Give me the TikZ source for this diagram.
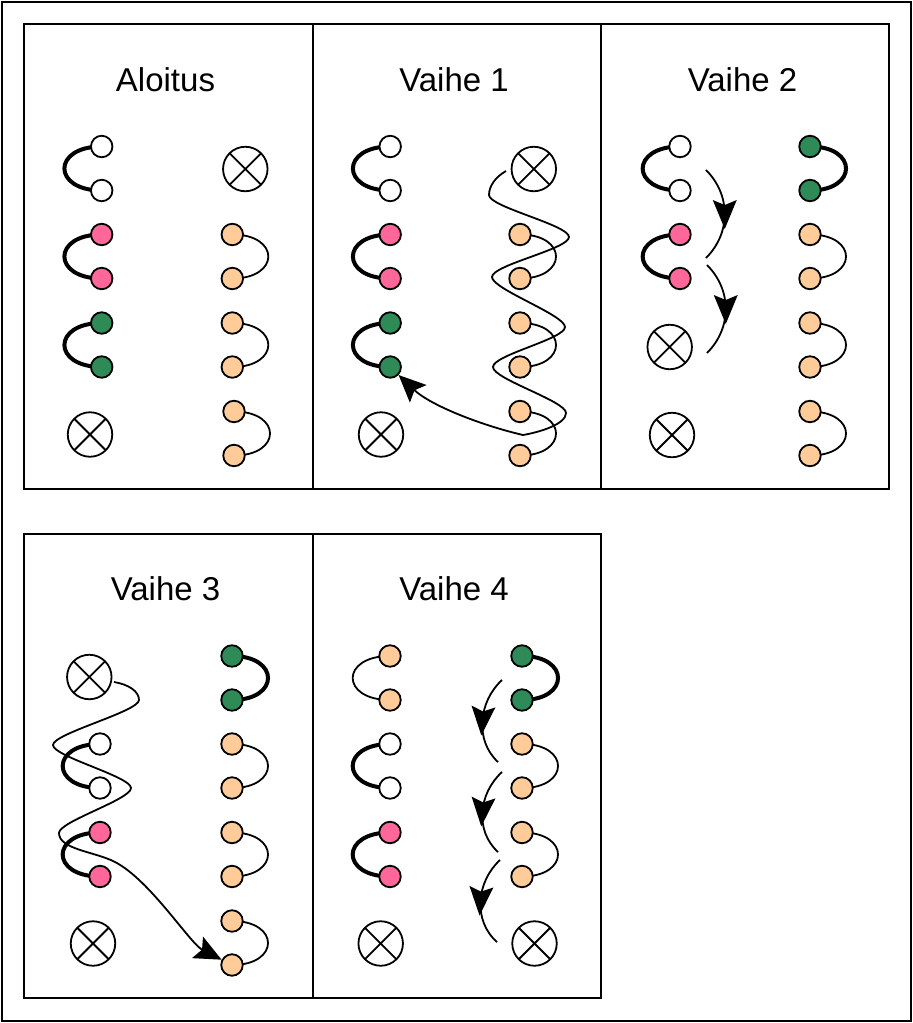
\documentclass[tikz,border=0pt]{standalone}
\usepackage{fontspec}
\setmainfont{Liberation Sans}
\usetikzlibrary{arrows.meta,decorations.markings}
\definecolor{pinkd}{HTML}{FF6699}
\definecolor{greend}{HTML}{2E8B57}
\definecolor{oranged}{HTML}{FFCC99}
\pgfdeclarelayer{bottom}
\pgfdeclarelayer{arcs}
\pgfsetlayers{bottom,arcs,main}
\tikzset{
 dotn/.style={circle,draw,line width=1.8pt,minimum size=21.5pt,inner sep=0pt},
 wdot/.style={dotn,fill=white},
 pdot/.style={dotn,fill=pinkd},
 gdot/.style={dotn,fill=greend},
 odot/.style={dotn,fill=oranged},
 xcirc/.style={circle,draw,line width=1.8pt,minimum size=44.5pt,inner sep=0pt,fill=white,
   path picture={\draw[line width=1.8pt] (path picture bounding box.north west) -- (path picture bounding box.south east) (path picture bounding box.north east) -- (path picture bounding box.south west);}},
 thickarc/.style={line width=4pt},
 thinarc/.style={line width=1.8pt},
 wave/.style={line width=1.8pt},
 panelline/.style={line width=2pt},
 title/.style={font=\fontsize{33}{40}\selectfont,anchor=base,inner sep=0pt},
 midarrow/.style={decoration={markings,mark=at position #1 with {\fill (15pt,0pt) -- (-14pt,12pt) -- (-9pt,0pt) -- (-14pt,-12pt) -- cycle;}},postaction={decorate}},
}
% left-side pair: prefix, x, y, dot style, arc style
\newcommand{\lpairX}[5]{%
  \node[#4] (#1a) at (#2,#3) {};
  \node[#4] (#1b) at (#2,#3+44) {};
  \begin{pgfonlayer}{arcs}
  \draw[#5] (#1a.center) to[out=180,in=180,looseness=2.9] (#1b.center);
  \end{pgfonlayer}
}
\newcommand{\rpairX}[5]{%
  \node[#4] (#1a) at (#2,#3) {};
  \node[#4] (#1b) at (#2,#3+44) {};
  \begin{pgfonlayer}{arcs}
  \draw[#5] (#1a.center) to[out=0,in=0,looseness=2.8] (#1b.center);
  \end{pgfonlayer}
}
\begin{document}
\begin{tikzpicture}[x=1pt,y=-1pt,>={Stealth[length=27pt,width=24pt,inset=5pt]}]
\useasboundingbox (0,0) rectangle (913,1023);
\begin{pgfonlayer}{bottom}
\fill[white] (0,0) rectangle (913,1023);
\end{pgfonlayer}
\draw[line width=2pt] (2,2) rectangle (911,1021);
\draw[panelline] (24,24) rectangle (312.5,489);
\draw[panelline] (312.5,24) rectangle (601,489);
\draw[panelline] (601,24) rectangle (888.5,489);
\draw[panelline] (24,533.5) rectangle (312.5,998);
\draw[panelline] (312.5,533.5) rectangle (601,998);

% ---------- Aloitus ----------
\begin{scope}[shift={(24,24)}]
\node[title] (a-t) at (141.5,67) {Aloitus};
\lpairX{a-w}{77.7}{122.5}{wdot}{thickarc}
\lpairX{a-p}{77.7}{210.5}{pdot}{thickarc}
\lpairX{a-g}{77.7}{299}{gdot}{thickarc}
\node[xcirc] (a-x1) at (66,410.5) {};
\node[xcirc] (a-x2) at (221.3,145) {};
\rpairX{a-o1}{208.3}{210.5}{odot}{thinarc}
\rpairX{a-o2}{208.3}{299}{odot}{thinarc}
\rpairX{a-o3}{210}{387.5}{odot}{thinarc}
\end{scope}

% ---------- Vaihe 1 ----------
\begin{scope}[shift={(312.5,24)}]
\node[title] (b-t) at (141.5,67) {Vaihe 1};
\lpairX{b-w}{77.7}{122.5}{wdot}{thickarc}
\lpairX{b-p}{77.7}{210.5}{pdot}{thickarc}
\lpairX{b-g}{77.7}{299}{gdot}{thickarc}
\node[xcirc] (b-x1) at (68.5,410.5) {};
\node[xcirc] (b-x2) at (221.3,145) {};
\rpairX{b-o1}{207.5}{210.5}{odot}{thinarc}
\rpairX{b-o2}{207.5}{299}{odot}{thinarc}
\rpairX{b-o3}{207.5}{387.5}{odot}{thinarc}
\coordinate (b-ws) at (193.5,147);
\draw[wave,->] (b-ws) .. controls (183,153) and (176.5,162) .. (176.5,171)
 .. controls (176.5,183) and (256.5,201) .. (256.5,213)
 .. controls (256.5,225) and (179.5,241) .. (179.5,253)
 .. controls (179.5,265) and (252.5,291) .. (252.5,303)
 .. controls (252.5,315) and (180.5,331) .. (180.5,343)
 .. controls (180.5,355) and (253.5,377) .. (253.5,389)
 .. controls (253.5,400) and (228,408) .. (210.5,411)
 .. controls (167.5,401) and (117.5,381) .. (b-gb);
\end{scope}

% ---------- Vaihe 2 ----------
\begin{scope}[shift={(601,24)}]
\node[title] (c-t) at (141.5,67) {Vaihe 2};
\lpairX{c-w}{79}{122.5}{wdot}{thickarc}
\lpairX{c-p}{79}{210.5}{pdot}{thickarc}
\node[xcirc] (c-x1) at (68.7,323) {};
\node[xcirc] (c-x2) at (71,411) {};
\rpairX{c-g}{209}{122.5}{gdot}{thickarc}
\rpairX{c-o1}{209}{210.5}{odot}{thinarc}
\rpairX{c-o2}{209}{299}{odot}{thinarc}
\rpairX{c-o3}{209}{387.5}{odot}{thinarc}
\coordinate (c-a1s) at (105,146);
\coordinate (c-a1e) at (105,234);
\coordinate (c-a2s) at (106,241);
\coordinate (c-a2e) at (106,329);
\draw[wave,midarrow=0.5] (c-a1s) .. controls (130,171) and (130,209) .. (c-a1e);
\draw[wave,midarrow=0.5] (c-a2s) .. controls (131,266) and (131,304) .. (c-a2e);
\end{scope}

% ---------- Vaihe 3 ----------
\begin{scope}[shift={(24,533.5)}]
\node[title] (d-t) at (141.5,67) {Vaihe 3};
\node[xcirc] (d-x1) at (65.3,143.5) {};
\lpairX{d-w}{76}{210.5}{wdot}{thickarc}
\lpairX{d-p}{76}{299}{pdot}{thickarc}
\node[xcirc] (d-x2) at (69,410) {};
\rpairX{d-g}{208}{122.5}{gdot}{thickarc}
\rpairX{d-o1}{208}{210.5}{odot}{thinarc}
\rpairX{d-o2}{208}{299}{odot}{thinarc}
\rpairX{d-o3}{208}{387.5}{odot}{thinarc}
\coordinate (d-ws) at (90,148.5);
\draw[wave,->] (d-ws) .. controls (105,151) and (115,158) .. (115,166.5)
 .. controls (115,178) and (29,200) .. (29,211.5)
 .. controls (29,223) and (107,243) .. (107,254.5)
 .. controls (107,266) and (35,288) .. (35,299.5)
 .. controls (35,316) and (71,318) .. (91,328.5)
 .. controls (126,346.5) and (166,410) .. (d-o3b);
\end{scope}

% ---------- Vaihe 4 ----------
\begin{scope}[shift={(312.5,533.5)}]
\node[title] (e-t) at (141.5,67) {Vaihe 4};
\lpairX{e-o}{77.5}{122.5}{odot}{thinarc}
\lpairX{e-w}{77.5}{210.5}{wdot}{thickarc}
\lpairX{e-p}{77.5}{299}{pdot}{thickarc}
\node[xcirc] (e-x1) at (68.2,410) {};
\rpairX{e-g}{209.5}{122.5}{gdot}{thickarc}
\rpairX{e-o1}{209.5}{210.5}{odot}{thinarc}
\rpairX{e-o2}{209.5}{299}{odot}{thinarc}
\node[xcirc] (e-x2) at (222,410) {};
\coordinate (e-a1s) at (189.5,146.5);
\coordinate (e-a1e) at (185.5,228.5);
\coordinate (e-a2s) at (189.5,238.5);
\coordinate (e-a2e) at (185.5,318.5);
\coordinate (e-a3s) at (187.5,326.5);
\coordinate (e-a3e) at (184.5,408.5);
\draw[wave,midarrow=0.5] (e-a1s) .. controls (166,168) and (162,207) .. (e-a1e);
\draw[wave,midarrow=0.5] (e-a2s) .. controls (166,260) and (162,297) .. (e-a2e);
\draw[wave,midarrow=0.5] (e-a3s) .. controls (164,348) and (160,387) .. (e-a3e);
\end{scope}
\end{tikzpicture}
\end{document}
